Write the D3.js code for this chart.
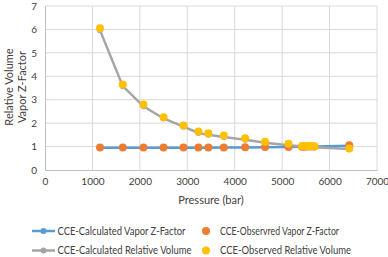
<!DOCTYPE html>
<html><head><meta charset="utf-8">
<script src="https://cdn.jsdelivr.net/npm/d3@7"></script>
<style>body{margin:0;background:#fff}svg{display:block}</style>
</head><body>
<script>
const pressure = [1160, 1640, 2075, 2500, 2920, 3235, 3445, 3770, 4220, 4640, 5135, 5420, 5485, 5550, 5615, 5680, 6415];
const calcZ    = [0.95, 0.95, 0.95, 0.95, 0.95, 0.95, 0.95, 0.96, 0.96, 0.97, 0.98, 0.99, 0.99, 0.99, 1.00, 1.00, 1.04];
const obsZ     = [0.96, 0.96, 0.96, 0.96, 0.96, 0.96, 0.96, 0.96, 0.97, 0.98, 0.98, 0.99, 0.99, 1.00, 1.00, 1.00, 1.06];
const calcRV   = [5.96, 3.58, 2.72, 2.20, 1.85, 1.58, 1.50, 1.41, 1.29, 1.16, 1.06, 1.00, 0.99, 0.98, 0.98, 0.97, 0.90];
const obsRV    = [6.05, 3.65, 2.80, 2.25, 1.90, 1.64, 1.57, 1.47, 1.35, 1.21, 1.12, 1.02, 1.02, 1.01, 1.01, 1.01, 0.92];
const xTicks = [0, 1000, 2000, 3000, 4000, 5000, 6000, 7000];
const yTicks = [0, 1, 2, 3, 4, 5, 6, 7];
const legendLabels = ["CCE-Calculated Vapor Z-Factor", "CCE-Observred Vapor Z-Factor", "CCE-Calculated Relative Volume", "CCE-Observed Relative Volume"];
const colors = {blue:"#5B9BD5", orange:"#ED7D31", gray:"#A5A5A5", yellow:"#FFC000"};

const W = 388, H = 257;
const svg = d3.select("body").append("svg").attr("width", W).attr("height", H);
const font = "Lato, 'Open Sans', sans-serif";
const x = d3.scaleLinear().domain([0, 7000]).range([45, 377]);
const y = d3.scaleLinear().domain([0, 7]).range([170, 6]);

// gridlines
svg.append("g").selectAll("line").data(yTicks.slice(1)).join("line")
  .attr("x1", 45).attr("x2", 377).attr("y1", d => y(d)).attr("y2", d => y(d))
  .attr("stroke", "#d9d9d9").attr("stroke-width", 1);
svg.append("g").selectAll("line").data(xTicks.slice(1)).join("line")
  .attr("y1", 6).attr("y2", 170).attr("x1", d => x(d)).attr("x2", d => x(d))
  .attr("stroke", "#d9d9d9").attr("stroke-width", 1);

// axes
const xAxis = svg.append("g").attr("transform", "translate(0,170)")
  .call(d3.axisBottom(x).tickValues(xTicks).tickSize(0).tickPadding(8).tickFormat(d3.format("d")));
const yAxis = svg.append("g").attr("transform", "translate(45,0)")
  .call(d3.axisLeft(y).tickValues(yTicks).tickSize(0).tickPadding(8).tickFormat(d3.format("d")));
[xAxis, yAxis].forEach(a => {
  a.select(".domain").attr("stroke", "#bfbfbf").attr("stroke-width", 1);
  a.selectAll("text").attr("font-family", font).attr("font-size", 10).attr("fill", "#404040");
});

// titles
svg.append("text").attr("x", 211).attr("y", 204).attr("text-anchor", "middle")
  .attr("font-family", font).attr("font-size", 11).attr("fill", "#404040").text("Pressure (bar)");
svg.append("text").attr("transform", "translate(13,87) rotate(-90)").attr("text-anchor", "middle")
  .attr("font-family", font).attr("font-size", 11).attr("fill", "#404040").text("Relative Volume");
svg.append("text").attr("transform", "translate(26,87) rotate(-90)").attr("text-anchor", "middle")
  .attr("font-family", font).attr("font-size", 11).attr("fill", "#404040").text("Vapor Z-Factor");

const line = d3.line().x(d => x(d[0])).y(d => y(d[1]));
const series = (vals) => pressure.map((p, i) => [p, vals[i]]);

// calculated lines
svg.append("path").datum(series(calcZ)).attr("d", line).attr("fill", "none")
  .attr("stroke", colors.blue).attr("stroke-width", 2.5);
svg.append("g").selectAll("circle").data(series(calcZ)).join("circle")
  .attr("cx", d => x(d[0])).attr("cy", d => y(d[1])).attr("r", 3).attr("fill", colors.blue);
svg.append("path").datum(series(calcRV)).attr("d", line).attr("fill", "none")
  .attr("stroke", colors.gray).attr("stroke-width", 2.5);
svg.append("g").selectAll("circle").data(series(calcRV)).join("circle")
  .attr("cx", d => x(d[0])).attr("cy", d => y(d[1])).attr("r", 3).attr("fill", colors.gray);

// observed points
svg.append("g").selectAll("circle").data(series(obsZ)).join("circle")
  .attr("cx", d => x(d[0])).attr("cy", d => y(d[1])).attr("r", 4).attr("fill", colors.orange);
svg.append("g").selectAll("circle").data(series(obsRV)).join("circle")
  .attr("cx", d => x(d[0])).attr("cy", d => y(d[1])).attr("r", 4).attr("fill", colors.yellow);

// legend
const leg = [
  {label: legendLabels[0], c: colors.blue, line: true, lx: 32, ly: 231, w: 128},
  {label: legendLabels[1], c: colors.orange, line: false, lx: 206, ly: 231, w: 119},
  {label: legendLabels[2], c: colors.gray, line: true, lx: 32, ly: 250.5, w: 134},
  {label: legendLabels[3], c: colors.yellow, line: false, lx: 206, ly: 250.5, w: 131}
];
leg.forEach(l => {
  const g = svg.append("g");
  let t;
  if (l.line) {
    g.append("line").attr("x1", l.lx).attr("x2", l.lx + 23).attr("y1", l.ly).attr("y2", l.ly)
      .attr("stroke", l.c).attr("stroke-width", 2.5);
    g.append("circle").attr("cx", l.lx + 11.5).attr("cy", l.ly).attr("r", 3).attr("fill", l.c);
    t = g.append("text").attr("x", l.lx + 25.5);
  } else {
    g.append("circle").attr("cx", l.lx).attr("cy", l.ly).attr("r", 4).attr("fill", l.c);
    t = g.append("text").attr("x", l.lx + 14);
  }
  t.attr("y", l.ly).attr("dy", "0.35em").attr("font-family", font).attr("font-size", 10.5)
    .attr("fill", "#404040").text(l.label)
    .attr("textLength", l.w).attr("lengthAdjust", "spacingAndGlyphs");
});
</script>
</body></html>
